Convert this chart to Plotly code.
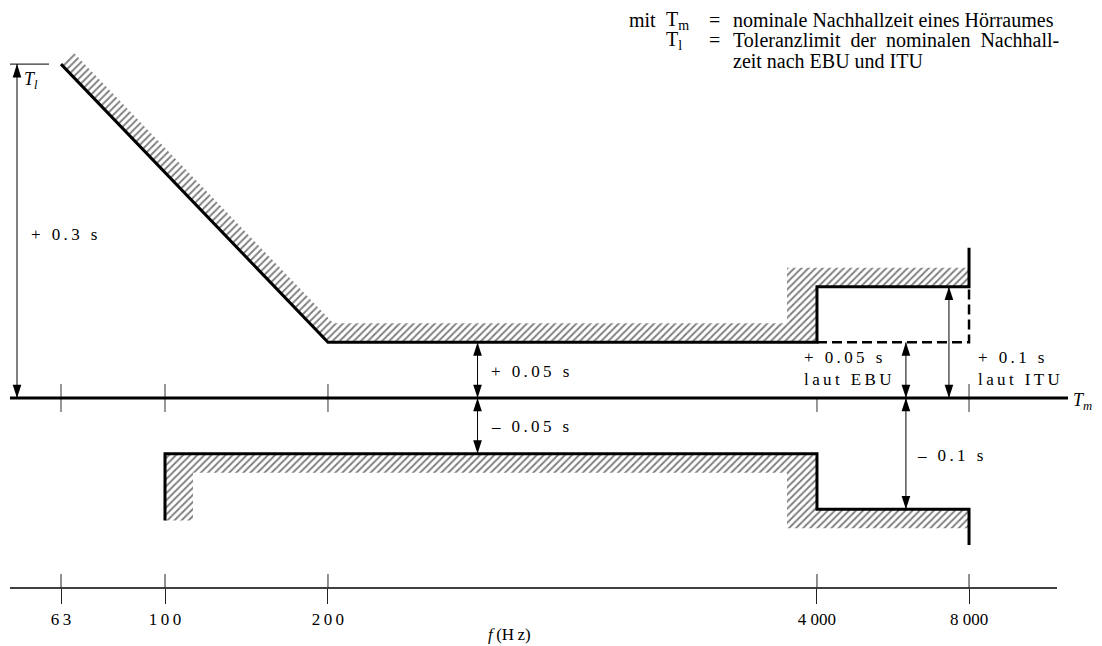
import numpy as np
import plotly.graph_objects as go

# ---------------- data ----------------
FREQ_TICKS = [63, 100, 200, 4000, 8000]            # Hz
TICK_LABELS = ["63", "100", "200", "4 000", "8 000"]
# schematic (non-uniform) placement of the frequency marks on the drawing's axis
AXIS_SLOTS = [0.0, 1.0, 2.567, 7.269, 8.731]

# upper tolerance limit (deviation from T_m, s)
UPPER_F = [63, 200, 4000, 4000, 8000, 8000]
UPPER_DT = [0.30, 0.05, 0.05, 0.10, 0.10, 0.135]
# EBU variant of the upper limit above 4 kHz (dashed)
EBU_F = [4000, 8000, 8000]
EBU_DT = [0.05, 0.05, 0.10]
# lower tolerance limit
LOWER_F = [100, 100, 4000, 4000, 8000, 8000]
LOWER_DT = [-0.11, -0.05, -0.05, -0.10, -0.10, -0.132]

# dimension arrows (frequency, from, to)
DIM_F = [500, 500, 6000, 7300, 6000]
DIM_FROM = [0.0, 0.0, 0.0, 0.0, 0.0]
DIM_TO = [0.05, -0.05, 0.05, 0.10, -0.10]
TL_VALUE = 0.30

# ---------------- geometry / style ----------------
OFF = 8                      # page body margin of the html page
W, H = 1102 - OFF, 646 - OFF
MB = 58
PH = H - MB
XR = [-0.5096, 10.0096]
YR = [-0.17071, 0.35040]
FONT = "Liberation Serif, Times New Roman, serif"
TS = "\u2009"

sx = (XR[1] - XR[0]) / W
sy = (YR[1] - YR[0]) / PH


def pos(f):
    return np.interp(np.log10(np.asarray(f, dtype=float)), np.log10(FREQ_TICKS), AXIS_SLOTS)


def to_px(x, y):
    return np.array([(x - XR[0]) / sx, (YR[1] - y) / sy])


def from_px(p):
    return XR[0] + p[0] * sx, YR[1] - p[1] * sy


def px(v):
    """page pixel -> figure pixel"""
    return v - OFF


def spaced(s):
    return TS.join(s)


BAND = 19.0   # px thickness of hatch band
SIDE = 30.0   # px width of hatch beside steps
SIDE100 = 28.0
WDIAG = 17.0

fig = go.Figure()

pattern = dict(shape="/", fgcolor="black", bgcolor="white", size=5, solidity=0.38)

# ---- upper hatch ----
A = to_px(pos(UPPER_F[0]), UPPER_DT[0])
B = to_px(pos(UPPER_F[1]), UPPER_DT[1])
u = (B - A) / np.linalg.norm(B - A)
n = np.array([u[1], -u[0]])
cap = A + n * WDIAG
t = ((B[1] - BAND) - cap[1]) / u[1]
corner = cap + t * u
p4 = to_px(pos(4000), 0.05)
p4b = to_px(pos(4000), 0.10)
p8 = to_px(pos(8000), 0.10)
poly = [A, B, p4, p4b, p8, p8 + [0, -BAND], p4b + [-SIDE, -BAND],
        p4 + [-SIDE, -BAND], corner, cap, A]
ux, uy = zip(*[from_px(p) for p in poly])
fig.add_trace(go.Scatter(x=ux, y=uy, mode="lines", fill="toself", line=dict(width=0),
                         fillcolor="white", fillpattern=pattern, hoverinfo="skip"))

# ---- lower hatch ----
q0 = to_px(pos(LOWER_F[0]), LOWER_DT[0])
q1 = to_px(pos(LOWER_F[1]), LOWER_DT[1])
q2 = to_px(pos(LOWER_F[2]), LOWER_DT[2])
q3 = to_px(pos(LOWER_F[3]), LOWER_DT[3])
q4 = to_px(pos(LOWER_F[4]), LOWER_DT[4])
poly = [q0, q1, q2, q3, q4, q4 + [0, BAND], q3 + [-SIDE, BAND], q2 + [-SIDE, BAND],
        q1 + [SIDE100, BAND], q0 + [SIDE100, 0], q0]
lx, ly = zip(*[from_px(p) for p in poly])
fig.add_trace(go.Scatter(x=lx, y=ly, mode="lines", fill="toself", line=dict(width=0),
                         fillcolor="white", fillpattern=pattern, hoverinfo="skip"))

# ---- ticks on the T_m line ----
half = 14 * sy
tx, ty = [], []
for f in FREQ_TICKS:
    p = float(pos(f))
    top = 0.0 if f == 4000 else half
    tx += [p, p, None]
    ty += [-half, top, None]
fig.add_trace(go.Scatter(x=tx, y=ty, mode="lines", line=dict(color="#333", width=1),
                         hoverinfo="skip"))

# ---- limit lines ----
fig.add_trace(go.Scatter(x=pos(UPPER_F), y=UPPER_DT, mode="lines",
                         line=dict(color="black", width=3)))
fig.add_trace(go.Scatter(x=pos(EBU_F), y=EBU_DT, mode="lines",
                         line=dict(color="black", width=2.5, dash="10px,5px")))
fig.add_trace(go.Scatter(x=pos(LOWER_F), y=LOWER_DT, mode="lines",
                         line=dict(color="black", width=3)))


# ---- dimension arrows ----
def arrow(x, y0, y1):
    ang = [0 if y0 > y1 else 180, 0 if y1 > y0 else 180]
    fig.add_trace(go.Scatter(x=[x, x], y=[y0, y1], mode="lines+markers",
                             line=dict(color="black", width=1),
                             marker=dict(symbol="arrow", size=14, angle=ang, color="black",
                                         line=dict(width=0)),
                             hoverinfo="skip"))


for f, a, b in zip(DIM_F, DIM_FROM, DIM_TO):
    arrow(float(pos(f)), a, b)
xl = from_px([px(17), 0])[0]
arrow(xl, 0.0, TL_VALUE)

shapes = []
# T_m line
shapes.append(dict(type="line", xref="paper", yref="y", x0=px(10) / W, x1=px(1068) / W,
                   y0=0, y1=0, line=dict(color="black", width=3)))
# T_l extension line
shapes.append(dict(type="line", xref="paper", yref="y", x0=px(10) / W, x1=px(49) / W,
                   y0=TL_VALUE, y1=TL_VALUE, line=dict(color="black", width=1)))
# bottom frequency axis line
shapes.append(dict(type="line", xref="paper", yref="paper", x0=px(10) / W, x1=px(1057) / W,
                   y0=0, y1=0, line=dict(color="black", width=1.5)))
for f in FREQ_TICKS:
    shapes.append(dict(type="line", xref="x", yref="paper", x0=float(pos(f)), x1=float(pos(f)),
                       y0=0, y1=14 / PH, line=dict(color="#222", width=1)))

annotations = []


def ann(text, xpx, ypx, size=16, xanchor="left"):
    annotations.append(dict(text=text, xref="paper", yref="paper", x=px(xpx) / W,
                            y=(PH - px(ypx)) / PH, xanchor=xanchor, yanchor="middle",
                            showarrow=False, font=dict(family=FONT, size=size, color="black")))


ann("<i>T</i><sub><i>l</i></sub>", 22, 80, 18)
ann(spaced("+ 0.3 s"), 29, 234, 17)
ann(spaced("+ 0.05 s"), 489, 372, 17)
ann(spaced("\u2013 0.05 s"), 489, 426, 17)
ann(spaced("+ 0.05 s"), 802, 357, 17)
ann(spaced("laut EBU"), 802, 379, 17)
ann(spaced("+ 0.1 s"), 976, 357, 17)
ann(spaced("laut ITU"), 976, 379, 17)
ann(spaced("\u2013 0.1 s"), 915, 455, 17)
ann("<i>T</i><sub><i>m</i></sub>", 1071, 401, 18)
ann("<i>f</i>" + TS + "(H" + TS + "z)", 509, 634, 17, "center")

# legend text top right
ann("mit", 627, 20, 20)
ann("T<sub>m</sub>", 664, 20, 20)
ann("=", 707, 20, 20)
ann("nominale Nachhallzeit eines Hörraumes", 731, 20, 20)
ann("T<sub>l</sub>", 664, 40, 20)
ann("=", 707, 40, 20)
ann("Toleranzlimit\u00a0 der\u00a0 nominalen\u00a0 Nachhall-", 731, 40, 20)
ann("zeit nach EBU und ITU", 731, 61, 20)

fig.update_layout(
    width=W, height=H,
    margin=dict(l=0, r=0, t=0, b=MB, pad=0),
    paper_bgcolor="white", plot_bgcolor="white",
    showlegend=False,
    shapes=shapes, annotations=annotations,
    xaxis=dict(range=XR, showgrid=False, zeroline=False, showline=False,
               tickmode="array", tickvals=[float(v) for v in pos(FREQ_TICKS)],
               ticktext=[lbl if " " in lbl else spaced(lbl) for lbl in TICK_LABELS],
               ticks="outside", ticklen=15, tickwidth=1, tickcolor="#222",
               ticklabelstandoff=1,
               tickfont=dict(family=FONT, size=17, color="black"), fixedrange=True),
    yaxis=dict(range=YR, visible=False, fixedrange=True),
)

fig.write_html("out.html")
